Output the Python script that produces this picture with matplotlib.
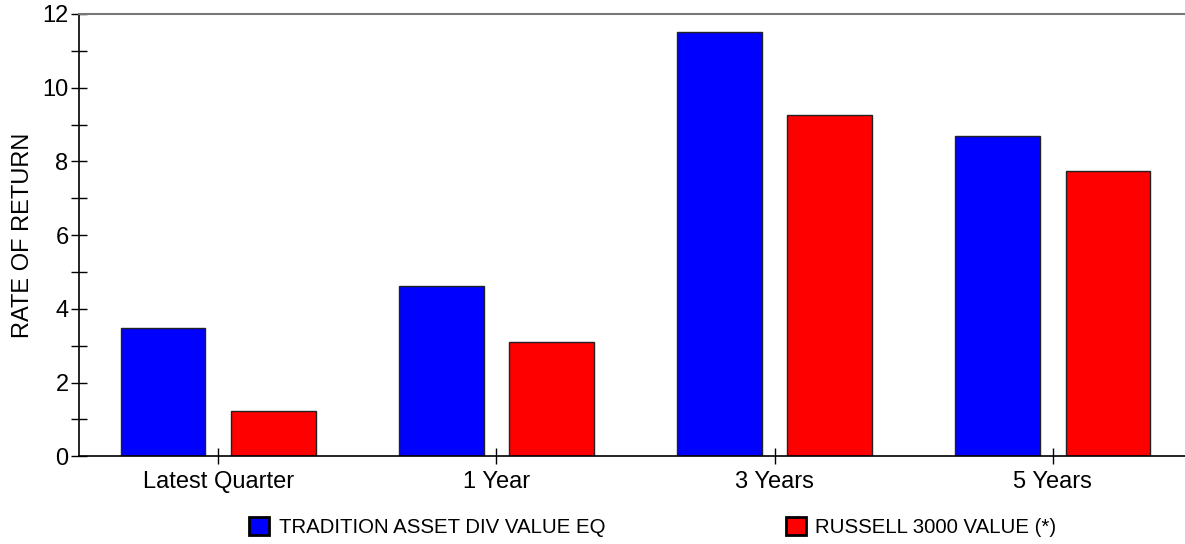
import numpy as np
import matplotlib.pyplot as plt
from matplotlib.patches import Patch

plt.rcParams['font.family'] = ['Liberation Sans', 'DejaVu Sans']

periods = ["Latest Quarter", "1 Year", "3 Years", "5 Years"]
fund_name = "TRADITION ASSET DIV VALUE EQ"
bench_name = "RUSSELL 3000 VALUE (*)"
fund = [3.47, 4.63, 11.50, 8.68]
bench = [1.23, 3.11, 9.26, 7.74]

fig = plt.figure(figsize=(11.85, 5.44), dpi=100)
ax = fig.add_axes([0.0667, 0.1612, 0.9333, 0.8131])

x = np.arange(len(periods))
w = 0.305
ax.bar(x - 0.198, fund, w, color="#0000ff", edgecolor="#222222", linewidth=1)
ax.bar(x + 0.198, bench, w, color="#ff0000", edgecolor="#222222", linewidth=1)

ax.set_xlim(-0.5, 3.475)
ax.set_ylim(0, 12)
ax.set_xticks(x)
ax.set_xticklabels(periods)
ax.set_yticks(np.arange(0, 13, 2))
ax.set_yticks(np.arange(1, 12, 2), minor=True)
ax.tick_params(axis="both", which="both", direction="inout", length=11,
               width=1, labelsize=17)
ax.tick_params(axis="y", pad=2)
ax.tick_params(axis="x", pad=5)
ax.set_ylabel("RATE OF RETURN", fontsize=17, labelpad=6)

ax.spines["right"].set_visible(False)
ax.spines["top"].set_color("#777777")
ax.spines["top"].set_linewidth(1.5)
for s in ("left", "bottom"):
    ax.spines[s].set_color("black")
    ax.spines[s].set_linewidth(1.2)

handles = [Patch(facecolor="#0000ff", edgecolor="black", linewidth=2),
           Patch(facecolor="#ff0000", edgecolor="black", linewidth=2)]
fig.legend(handles, [fund_name, bench_name], loc="center left",
           bbox_to_anchor=(249 / 1185, 1 - 527 / 544), ncol=2, frameon=False,
           fontsize=14.7, handlelength=1.0, handleheight=1.0, handletextpad=0.45,
           columnspacing=8.85, borderpad=0, borderaxespad=0)

fig.savefig("out.png", dpi=100)
